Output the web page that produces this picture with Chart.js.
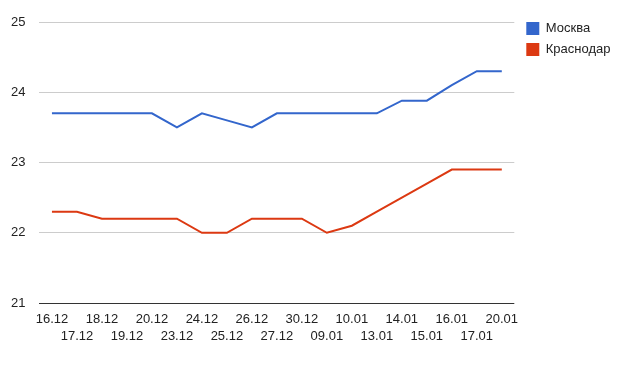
<!DOCTYPE html>
<html>
<head>
<meta charset="utf-8">
<script src="https://cdn.jsdelivr.net/npm/chart.js@4/dist/chart.umd.min.js"></script>
<style>
html,body{margin:0;padding:0;background:#fff;}
canvas{display:block;}
</style>
</head>
<body>
<canvas id="c" width="622" height="383"></canvas>
<script>
const categories = ['16.12','17.12','18.12','19.12','20.12','23.12','24.12','25.12','26.12','27.12','30.12','09.01','10.01','13.01','14.01','15.01','16.01','17.01','20.01'];
const seriesNames = ['Москва','Краснодар'];
const moscow = [23.7,23.7,23.7,23.7,23.7,23.5,23.7,23.6,23.5,23.7,23.7,23.7,23.7,23.7,23.88,23.88,24.1,24.3,24.3];
const krasnodar = [22.3,22.3,22.2,22.2,22.2,22.2,22.0,22.0,22.2,22.2,22.2,22.0,22.1,22.3,22.5,22.7,22.9,22.9,22.9];
const yTicks = [21,22,23,24,25];

// staggered x labels: every second label on the second row
const xLabels = categories.map((c,i) => i % 2 === 0 ? c : ['', c]);

const FONT = "'Liberation Sans', Arial, sans-serif";

const legendMove = {
  id: 'legendMove',
  afterLayout(chart) {
    const l = chart.legend;
    if (l) { l.top = 14; l.left = chart.chartArea.right + 4; }
  }
};

new Chart(document.getElementById('c'), {
  type: 'line',
  data: {
    labels: xLabels,
    datasets: [
      { label: seriesNames[0], data: moscow, borderColor: '#3366cc', backgroundColor: '#3366cc', borderWidth: 2, pointRadius: 0, tension: 0 },
      { label: seriesNames[1], data: krasnodar, borderColor: '#dc3912', backgroundColor: '#dc3912', borderWidth: 2, pointRadius: 0, tension: 0 }
    ]
  },
  options: {
    responsive: false,
    animation: false,
    devicePixelRatio: 1,
    layout: { padding: { left: 11, right: 5.5, top: 22, bottom: 30 } },
    plugins: {
      tooltip: { enabled: false },
      legend: {
        position: 'right',
        align: 'start',
        labels: {
          boxWidth: 13, boxHeight: 13, padding: 8,
          color: '#222',
          font: { family: FONT, size: 13 },
          generateLabels: (chart) => Chart.defaults.plugins.legend.labels.generateLabels(chart).map(l => ({...l, lineWidth: 0}))
        }
      }
    },
    scales: {
      x: {
        offset: true,
        grid: { display: false, drawTicks: false },
        border: { display: false },
        afterFit: (s) => { s.paddingLeft = 0; s.paddingRight = 0; },
        ticks: {
          autoSkip: false, maxRotation: 0, minRotation: 0, padding: 8,
          color: '#222',
          font: { family: FONT, size: 13, lineHeight: '17px' }
        }
      },
      y: {
        min: yTicks[0], max: yTicks[yTicks.length-1],
        afterBuildTicks: (s) => { s.ticks = yTicks.map(v => ({value: v})); },
        afterFit: (s) => { s.width -= s.options.ticks.padding; },
        grid: { drawTicks: false, color: (ctx) => ctx.tick && ctx.tick.value === 21 ? '#333333' : '#cccccc', lineWidth: 1 },
        border: { display: false },
        ticks: {
          padding: 14,
          color: '#222',
          font: { family: FONT, size: 13 }
        }
      }
    }
  },
  plugins: [legendMove]
});
</script>
</body>
</html>
